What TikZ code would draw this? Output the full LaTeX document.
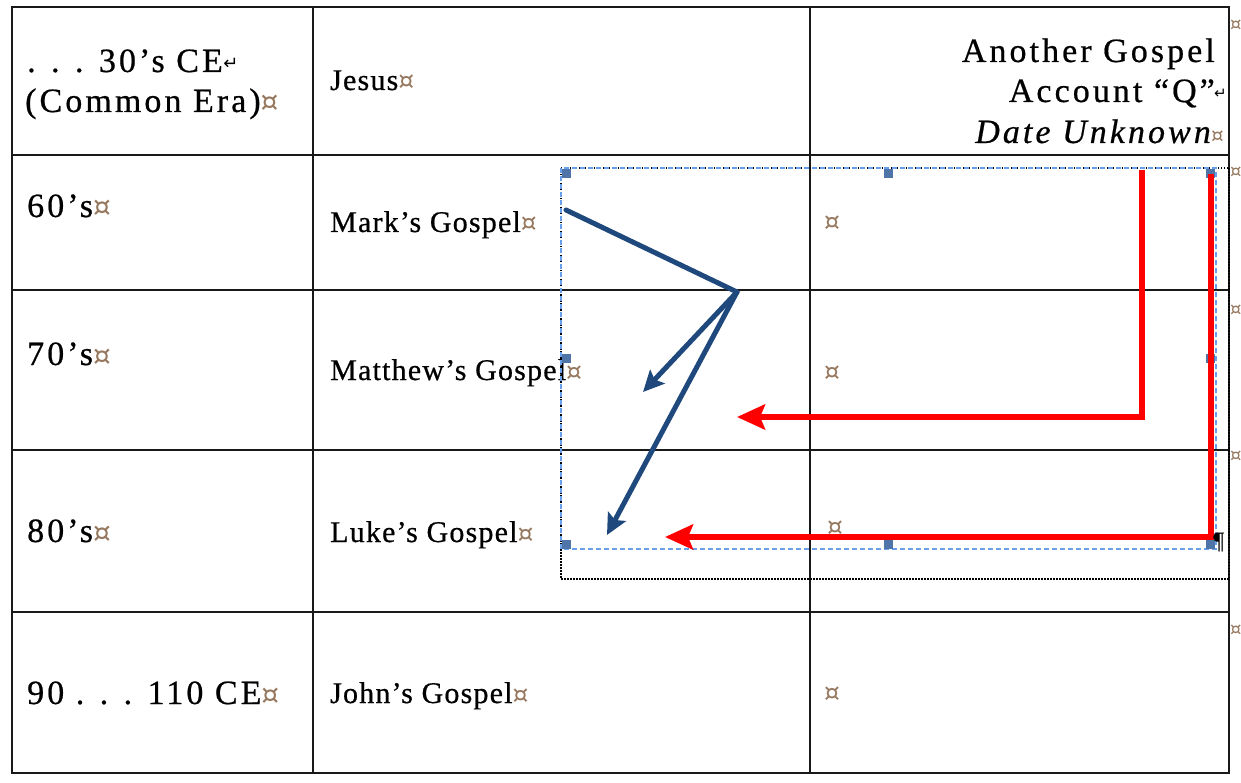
\documentclass[tikz,border=0pt]{standalone}
\usepackage{fontspec}
\setmainfont{Liberation Serif}[FakeBold=0.6]
\newfontfamily\symfont{DejaVu Sans}
\usetikzlibrary{arrows.meta}
\definecolor{gridc}{RGB}{25,25,25}
\definecolor{navy}{RGB}{31,73,125}
\definecolor{selblue}{RGB}{105,160,235}
\definecolor{handlec}{RGB}{79,116,168}
\definecolor{markc}{RGB}{150,120,95}
\newcommand{\cellmkL}{{\color{markc}\symfont\fontsize{28}{30}\selectfont ¤}}
\newcommand{\cellmkM}{{\color{markc}\symfont\fontsize{25}{27}\selectfont ¤}}
\tikzset{
  gridline/.style={draw=gridc, line width=2pt},
  lefttxt/.style={anchor=base west, inner sep=0pt, font=\fontsize{34}{40}\selectfont\addfontfeature{LetterSpace=9}},
  headtxt/.style={anchor=base east, inner sep=0pt, font=\fontsize{34}{40}\selectfont\addfontfeature{LetterSpace=9}},
  midtxt/.style={anchor=base west, inner sep=0pt, font=\fontsize{30}{34}\selectfont\addfontfeature{LetterSpace=4}},
  marktxt/.style={anchor=base west, inner sep=0pt, font=\symfont\fontsize{25}{27}\selectfont, text=markc},
  edgemark/.style={anchor=west, inner sep=0pt, font=\symfont\fontsize{18}{20}\selectfont, text=markc},
  handle/.style={fill=handlec, draw=none},
  bluearrow/.style={draw=navy, line width=5pt, line cap=round, -{Stealth[length=21pt,width=20pt,inset=4pt]}},
  blueline/.style={draw=navy, line width=5pt, line cap=round},
  redarrow/.style={draw=red, line width=6.5pt, line join=miter, -{Stealth[length=28pt,width=25pt,inset=5pt]}},
}
\begin{document}
\begin{tikzpicture}[x=1pt, y=-1pt]
\useasboundingbox (0,0) rectangle (1241,783);
\fill[white] (0,0) rectangle (1241,783);

% table grid
\draw[gridline] (12,7) rectangle (1229,773);
\draw[gridline] (313,7) -- (313,773);
\draw[gridline] (810,7) -- (810,773);
\draw[gridline] (12,155) -- (1229,155);
\draw[gridline] (12,290) -- (1229,290);
\draw[gridline] (12,450) -- (1229,450);
\draw[gridline] (12,612) -- (1229,612);

% header row
\node[lefttxt] (t30a) at (27,72) {. . . 30’s CE};
\node[anchor=west, inner sep=0pt, font=\symfont\fontsize{18}{20}\selectfont] (br1) at (t30a.east |- 0,64) {↵};
\node[lefttxt] (t30b) at (25,112) {(Common Era)\cellmkL};
\node[midtxt] (tjesus) at (330,90) {Jesus\cellmkM};
\node[headtxt] (tq1) at (1215,62) {Another Gospel};
\node[headtxt] (tq2) at (1215,102) {Account “Q”};
\node[anchor=west, inner sep=0pt, font=\symfont\fontsize{15}{17}\selectfont] (br2) at (1214,94) {↵};
\node[headtxt, font=\fontsize{34}{40}\selectfont\itshape\addfontfeature{LetterSpace=9}] (tq3) at (1211,143) {Date Unknown};
\node[marktxt, font=\symfont\fontsize{20}{22}\selectfont] (mq) at (tq3.base east) {¤};

% rows
\node[lefttxt] (t60) at (27,217) {60’s\cellmkL};
\node[midtxt] (tmark) at (330,232) {Mark’s Gospel\cellmkM};
\node[marktxt] (m1) at (824,231) {¤};

\node[lefttxt] (t70) at (27,365) {70’s\cellmkL};
\node[midtxt] (tmatt) at (330,380) {Matthew’s Gospel\cellmkM};
\node[marktxt] (m2) at (824,380) {¤};

\node[lefttxt] (t80) at (27,542) {80’s\cellmkL};
\node[midtxt] (tluke) at (330,542) {Luke’s Gospel\cellmkM};
\node[marktxt] (m3) at (827,535) {¤};

\node[lefttxt] (t90) at (27,704) {90 . . . 110 CE\cellmkL};
\node[midtxt] (tjohn) at (330,703) {John’s Gospel\cellmkM};
\node[marktxt] (m4) at (824,701) {¤};

% end-of-row marks outside the table
\node[edgemark] (e0) at (1230,25) {¤};
\node[edgemark] (e1) at (1230,172) {¤};
\node[edgemark] (e2) at (1230,310) {¤};
\node[edgemark] (e3) at (1230,456) {¤};
\node[edgemark] (e4) at (1230,630) {¤};

% selection frames
\draw[black, line width=1.3pt, dash pattern=on 1.5pt off 1.5pt] (561,168) rectangle (1229,579);
\draw[selblue, line width=1.3pt, dash pattern=on 5pt off 3pt] (561,168) rectangle (1216,549);
\fill[handle] (562,169) rectangle (571,178);
\fill[handle] (884,169) rectangle (893,178);
\fill[handle] (1206,169) rectangle (1215,178);
\fill[handle] (562,354) rectangle (571,363);
\fill[handle] (1206,354) rectangle (1215,363);
\fill[handle] (562,540) rectangle (571,549);
\fill[handle] (884,540) rectangle (893,549);
\fill[handle] (1206,540) rectangle (1215,549);

% blue arrows (Mark -> Matthew, Luke)
\coordinate (mk) at (566,210);
\coordinate (v) at (737,292);
\coordinate (mt) at (643,392);
\coordinate (lk) at (607,535);
\draw[blueline] (mk) -- (v);
\draw[bluearrow] (v) -- (mt);
\draw[bluearrow] (v) -- (lk);

% red arrows (Q -> Matthew, Luke)
\coordinate (q1) at (1142,170);
\coordinate (c1) at (1142,417);
\coordinate (t1) at (737,417);
\coordinate (q2) at (1211,174);
\coordinate (c2) at (1211,537);
\coordinate (t2) at (665,537);
\draw[redarrow] (q1) -- (c1) -- (t1);
\draw[redarrow] (q2) -- (c2) -- (t2);

% paragraph mark
\node[anchor=west, inner sep=0pt, font=\fontsize{24}{26}\selectfont] (pil) at (1213,542) {¶};
\end{tikzpicture}
\end{document}
